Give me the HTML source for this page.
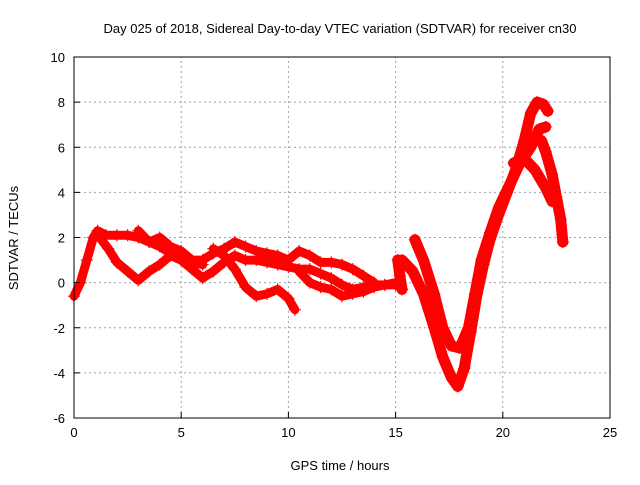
<!DOCTYPE html>
<html><head><meta charset="utf-8"><style>
body{margin:0;background:#fff}
svg text{font-family:"Liberation Sans",sans-serif;font-size:13px;fill:#000}
</style></head><body>
<svg id="chart" width="640" height="480" xmlns="http://www.w3.org/2000/svg">
<text x="340" y="33" text-anchor="middle">Day 025 of 2018, Sidereal Day-to-day VTEC variation (SDTVAR) for receiver cn30</text>
<g id="grid"></g>
<g id="series"></g>
<rect x="74" y="57" width="536" height="361" fill="none" stroke="#000" stroke-width="1"/>
<g id="ticks"></g>
<text x="340" y="470" text-anchor="middle">GPS time / hours</text>
<text x="0" y="0" text-anchor="middle" transform="translate(18,238) rotate(-90)">SDTVAR / TECUs</text>
</svg>
<script>
const xTicks=[0,5,10,15,20,25];
const yTicks=[-6,-4,-2,0,2,4,6,8,10];
const arc1x=[0,0.3,0.6,0.9,1.1,1.5,2.0,2.5,3.0,3.5,4.0,4.5,5.0,5.5,6.0];
const arc1y=[-0.6,0,1.0,2.0,2.3,2.1,2.1,2.1,2.0,1.8,1.6,1.3,1.2,0.9,0.8];
const arc2x=[1.2,1.6,2.0,2.5,3.0,3.5,4.0,4.5,5.0,5.5,6.0,6.5,7.0,7.5,8.0,8.5,9.0,9.5,10,10.5,11,11.5,12,12.5,13,13.5,14,14.5,15];
const arc2y=[2.0,1.5,0.9,0.5,0.1,0.5,0.8,1.2,1.0,0.6,0.2,0.5,0.9,1.2,1.0,1.0,0.9,0.8,0.7,0.6,0.6,0.4,0.2,-0.1,-0.3,-0.2,-0.1,-0.1,-0.1];
const arc3x=[6.5,7.0,7.5,8.0,8.5,9.0,9.5,10.0,10.3];
const arc3y=[1.5,1.2,0.6,-0.2,-0.6,-0.5,-0.3,-0.7,-1.2];
const arc4x=[3.0,3.5,4.0,4.5,5.0,5.5,6.0,6.5,7.0,7.5,8.0,8.5,9,9.5,10,10.5,11,11.5,12,12.5,13,13.5,14];
const arc4y=[2.3,1.8,2.0,1.6,1.4,1.0,1.0,1.3,1.5,1.8,1.6,1.4,1.3,1.2,1.0,1.4,1.2,0.9,0.9,0.8,0.6,0.3,0.0];
const arc5x=[10.5,11,11.5,12,12.5,13,13.5,14,14.5,15];
const arc5y=[0.5,0.0,-0.2,-0.3,-0.6,-0.5,-0.4,-0.2,-0.1,0.0];
const arc6x=[15.3,15.8,16.3,16.8,17.2,17.6,17.9,18.2,18.5,18.8,19.1,19.4,19.8,20.2,20.6,21.0,21.3,21.6,21.9,22.1];
const arc6y=[1.0,0.5,-0.5,-2.0,-3.3,-4.2,-4.6,-3.8,-2.2,-0.5,0.8,1.9,3.0,4.0,5.0,6.3,7.5,8.0,7.9,7.6];
const arc7x=[15.9,16.3,16.8,17.2,17.6,18.0,18.4,18.7,19.0,19.4,19.8,20.3,20.8,21.3,21.7,22.0];
const arc7y=[1.9,1.0,-0.5,-2.0,-2.8,-2.9,-2.0,-0.5,1.0,2.2,3.3,4.3,5.3,6.0,6.8,6.9];
const arc8x=[20.5,21.0,21.5,22.0,22.3];
const arc8y=[5.3,5.5,5.0,4.2,3.6];
const arc9x=[21.8,22.0,22.3,22.5,22.7,22.8];
const arc9y=[6.3,5.8,4.8,3.8,2.8,1.8];
const arc10x=[15.1,15.2,15.3];
const arc10y=[1.0,0.3,-0.3];
const arcs=[[arc1x,arc1y],[arc2x,arc2y],[arc3x,arc3y],[arc4x,arc4y],[arc5x,arc5y],[arc6x,arc6y],[arc7x,arc7y],[arc8x,arc8y],[arc9x,arc9y],[arc10x,arc10y]];

const NS="http://www.w3.org/2000/svg";
const X0=74,X1=610,Y0=418,Y1=57;
function sx(v){return X0+(v-0)/(25-0)*(X1-X0);}
function sy(v){return Y0-(v+6)/(16)*(Y0-Y1);}
function mk(t,a,p){const e=document.createElementNS(NS,t);for(const k in a)e.setAttribute(k,a[k]);p.appendChild(e);return e;}
const grid=document.getElementById('grid'),ticks=document.getElementById('ticks'),ser=document.getElementById('series');
xTicks.forEach(v=>{const x=sx(v);
 if(v>0&&v<25){const g=mk('line',{x1:x,x2:x,y1:Y0,y2:Y1,stroke:'#a0a0a0','stroke-dasharray':'2,3'},grid);
 
 }
 const t=mk('line',{x1:x,x2:x,y1:Y0,y2:Y0-6,stroke:'#000'},ticks);
 
 
 const l=mk('text',{x:x,y:Y0+19,'text-anchor':'middle'},ticks);l.textContent=v;
 
 
});
yTicks.forEach(v=>{const y=sy(v);
 if(v>-6&&v<10){const g=mk('line',{x1:X0,x2:X1,y1:y,y2:y,stroke:'#a0a0a0','stroke-dasharray':'2,3'},grid);
 
 }
 const t=mk('line',{x1:X0,x2:X0+6,y1:y,y2:y,stroke:'#000'},ticks);
 
 
 const l=mk('text',{x:X0-9,y:y+5,'text-anchor':'end'},ticks);l.textContent=v;
 
 
});
arcs.forEach((a,i)=>{
 const pts=a[0].map((x,j)=>sx(x)+','+sy(a[1][j])).join(' ');
 const pl=mk('polyline',{points:pts,fill:'none',stroke:'#ff0000','stroke-width':(i>=5?11:9),'stroke-linejoin':'round','stroke-linecap':'round'},ser);
 
 
 a[0].forEach((x,j)=>{const cx=sx(x),cy=sy(a[1][j]);
  const p=mk('path',{d:`M${cx-6},${cy}h12M${cx},${cy-6}v12`,stroke:'#ff0000','stroke-width':1.2},ser);
  
  
 });
});
</script>
</body></html>
